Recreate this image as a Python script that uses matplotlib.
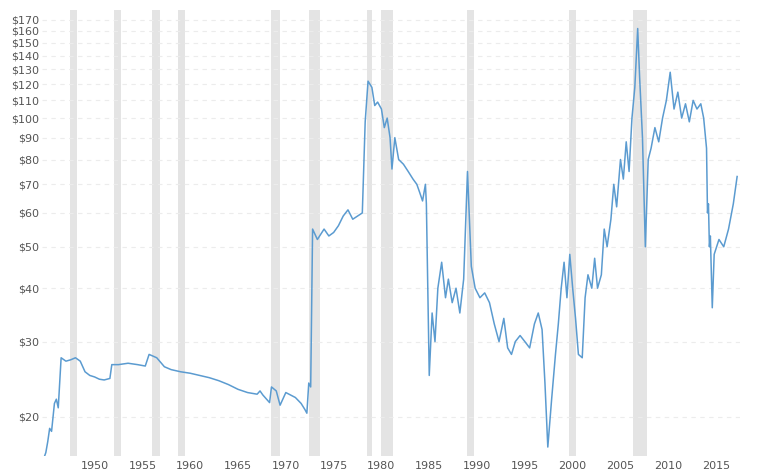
import matplotlib
matplotlib.use("Agg")
import matplotlib.pyplot as plt
from matplotlib.ticker import FixedLocator, NullLocator

years_1 = [1944.6, 1944.9, 1945.1, 1945.3, 1945.5, 1945.8, 1946.0, 1946.2, 1946.5, 1947.0, 1947.5, 1948.0, 1948.5, 1949.0, 1949.5, 1950.0, 1950.5, 1951.0, 1951.6, 1951.8]
prices_1 = [15.8, 16.5, 17.5, 18.8, 18.5, 21.5, 22.0, 21.0, 27.5, 27.0, 27.2, 27.5, 27.0, 25.5, 25.0, 24.8, 24.5, 24.4, 24.6, 26.5]
years_2 = [1952.5, 1953.5, 1954.5, 1955.3, 1955.7, 1956.5, 1957.3, 1958.0, 1959.0, 1960.0, 1961.0, 1962.0, 1963.0, 1964.0, 1965.0, 1966.0, 1967.0, 1967.3, 1967.6, 1968.3]
prices_2 = [26.5, 26.7, 26.5, 26.3, 28.0, 27.5, 26.2, 25.8, 25.5, 25.3, 25.0, 24.7, 24.3, 23.8, 23.2, 22.8, 22.6, 23.0, 22.5, 21.6]
years_3 = [1968.5, 1969.0, 1969.4, 1970.0, 1971.0, 1971.6, 1972.0, 1972.2, 1972.4, 1972.6, 1972.8, 1973.3, 1974.0, 1974.5, 1975.0, 1975.5, 1976.0, 1976.5, 1977.0, 1978.0]
prices_3 = [23.5, 23.0, 21.3, 22.8, 22.2, 21.5, 20.8, 20.4, 24.0, 23.5, 55.0, 52.0, 55.0, 53.0, 54.0, 56.0, 59.0, 61.0, 58.0, 60.0]
years_4 = [1978.3, 1978.6, 1979.0, 1979.3, 1979.6, 1980.0, 1980.3, 1980.6, 1980.9, 1981.1, 1981.4, 1981.8, 1982.3, 1982.8, 1983.3, 1983.7, 1984.0, 1984.3, 1984.6, 1984.7]
prices_4 = [98.0, 122.0, 118.0, 107.0, 109.0, 105.0, 95.0, 100.0, 90.0, 76.0, 90.0, 80.0, 78.0, 75.0, 72.0, 70.0, 67.0, 64.0, 70.0, 63.0]
years_5 = [1985.0, 1985.3, 1985.6, 1985.9, 1986.3, 1986.7, 1987.0, 1987.4, 1987.8, 1988.2, 1988.6, 1989.0, 1989.4, 1989.8, 1990.3, 1990.8, 1991.3, 1991.8, 1992.3, 1992.8]
prices_5 = [25.0, 35.0, 30.0, 40.0, 46.0, 38.0, 42.0, 37.0, 40.0, 35.0, 42.0, 75.0, 45.0, 40.0, 38.0, 39.0, 37.0, 33.0, 30.0, 34.0]
years_6 = [1993.2, 1993.6, 1994.0, 1994.5, 1995.0, 1995.5, 1996.0, 1996.4, 1996.8, 1997.1, 1997.4, 1997.8, 1998.2, 1998.5, 1998.8, 1999.1, 1999.4, 1999.7, 2000.0, 2000.3]
prices_6 = [29.0, 28.0, 30.0, 31.0, 30.0, 29.0, 33.0, 35.0, 32.0, 24.0, 17.0, 22.0, 28.0, 33.0, 40.0, 46.0, 38.0, 48.0, 40.0, 34.0]
years_7 = [2000.6, 2001.0, 2001.3, 2001.6, 2002.0, 2002.3, 2002.6, 2003.0, 2003.3, 2003.6, 2004.0, 2004.3, 2004.6, 2005.0, 2005.3, 2005.6, 2005.9, 2006.2, 2006.5, 2006.8]
prices_7 = [28.0, 27.5, 38.0, 43.0, 40.0, 47.0, 40.0, 43.0, 55.0, 50.0, 58.0, 70.0, 62.0, 80.0, 72.0, 88.0, 75.0, 100.0, 118.0, 162.0]
years_8 = [2007.0, 2007.3, 2007.6, 2007.9, 2008.2, 2008.6, 2009.0, 2009.4, 2009.8, 2010.2, 2010.6, 2011.0, 2011.4, 2011.8, 2012.2, 2012.6, 2013.0, 2013.4, 2013.7, 2014.0]
prices_8 = [125.0, 90.0, 50.0, 80.0, 85.0, 95.0, 88.0, 100.0, 110.0, 128.0, 105.0, 115.0, 100.0, 108.0, 98.0, 110.0, 105.0, 108.0, 100.0, 85.0]
years_9 = [2014.1, 2014.2, 2014.3, 2014.4, 2014.5, 2014.6, 2014.8, 2015.3, 2015.8, 2016.3, 2016.8, 2017.2]
prices_9 = [60.0, 63.0, 50.0, 53.0, 44.0, 36.0, 48.0, 52.0, 50.0, 55.0, 63.0, 73.0]

years = years_1 + years_2 + years_3 + years_4 + years_5 + years_6 + years_7 + years_8 + years_9
prices = prices_1 + prices_2 + prices_3 + prices_4 + prices_5 + prices_6 + prices_7 + prices_8 + prices_9

recessions = [(1947.4, 1948.2), (1952.0, 1952.8), (1956.0, 1956.8), (1958.7, 1959.5), (1968.4, 1969.4), (1972.4, 1973.6), (1978.5, 1979.0), (1980.0, 1981.2), (1989.0, 1989.7), (1999.6, 2000.4), (2006.3, 2007.8)]

ytick_vals = [20, 30, 40, 50, 60, 70, 80, 90, 100, 110, 120, 130, 140, 150, 160, 170]
xtick_vals = [1950, 1955, 1960, 1965, 1970, 1975, 1980, 1985, 1990, 1995, 2000, 2005, 2010, 2015]

fig = plt.figure(figsize=(7.68, 4.74), dpi=100)
ax = fig.add_axes([42/768, 1-456/474, (740-42)/768, (456-10)/474])
ax.set_yscale("log")
ax.set_xlim(1944.5, 2017.5)
ax.set_ylim(16.2, 179)
for a, b in recessions:
    ax.axvspan(a, b, color="#e4e4e4", lw=0, zorder=0)
for v in ytick_vals:
    ax.axhline(v, color="#ececec", lw=0.8, ls=(0, (4, 4)), zorder=0.5)
ax.plot(years, prices, color="#5b9bd0", lw=1.1, zorder=2)
ax.yaxis.set_major_locator(FixedLocator(ytick_vals))
ax.yaxis.set_minor_locator(NullLocator())
ax.set_yticklabels([f"${v}" for v in ytick_vals])
ax.set_xticks(xtick_vals)
ax.set_xticklabels([str(v) for v in xtick_vals])
ax.tick_params(length=0, labelsize=8, colors="#555555")
ax.tick_params(axis="y", pad=2)
for s in ax.spines.values():
    s.set_visible(False)
fig.savefig("out.png", dpi=100)
